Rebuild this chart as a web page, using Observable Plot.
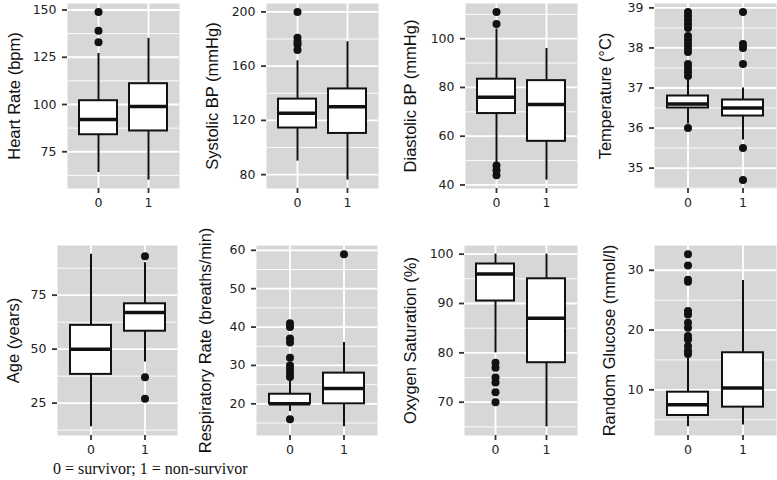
<!DOCTYPE html>
<html>
<head>
<meta charset="utf-8">
<script src="https://cdn.jsdelivr.net/npm/d3@7"></script>
<script src="https://cdn.jsdelivr.net/npm/@observablehq/plot@0.6"></script>
<style>
  html, body { margin: 0; padding: 0; background: #fff; }
  #root { position: relative; width: 777px; height: 480px; overflow: hidden; background: #fff; }
  .panel { position: absolute; }
  #caption { position: absolute; left: 53px; top: 460px; font-family: "Liberation Serif", "Times New Roman", serif; font-size: 16px; line-height: 18px; color: #111; white-space: nowrap; }
</style>
</head>
<body>
<div id="root"></div>
<script>
// ---- data ----
const groups = ["0", "1"];
const titles = [
  "Heart Rate (bpm)", "Systolic BP (mmHg)", "Diastolic BP (mmHg)", "Temperature (\u00B0C)",
  "Age (years)", "Respiratory Rate (breaths/min)", "Oxygen Saturation (%)", "Random Glucose (mmol/l)"
];
// [group 0, group 1] per panel
const lowerWhisker = [[64, 60], [90, 76], [49, 42], [36.1, 35.7], [14, 44], [18, 14], [80, 65], [3.8, 4.1]];
const lowerQuartile = [[84, 86], [114.4, 110.4], [69.3, 57.9], [36.5, 36.3], [38.3, 58.3], [20, 20], [90.5, 78], [5.7, 7.1]];
const medians = [[92, 99], [125.3, 130], [76, 73], [36.6, 36.5], [50, 67], [20, 24], [96, 87], [7.5, 10.3]];
const upperQuartile = [[102, 111], [135.7, 143.2], [83.4, 82.8], [36.8, 36.7], [61, 71], [22.5, 28], [98, 95], [9.6, 16.2]];
const upperWhisker = [[127, 135], [164, 178], [104, 96], [37.2, 37.0], [94, 90], [26, 36], [100, 100], [15.6, 28.3]];
const outliersGroup0 = [
  [133, 139, 149],
  [172, 176, 178, 181, 200],
  [44, 46, 48, 106, 111],
  [36.0, 37.3, 37.4, 37.5, 37.6, 37.9, 38.0, 38.1, 38.2, 38.3, 38.5, 38.6, 38.7, 38.8, 38.9],
  [],
  [16, 27, 28, 29, 30, 32, 36, 37, 40, 41],
  [70, 72, 74, 75, 77, 78],
  [16.0, 16.5, 17.3, 18.4, 19.0, 20.4, 21.2, 22.6, 23.2, 28.1, 28.4, 30.8, 32.7]
];
const outliersGroup1 = [
  [],
  [],
  [],
  [34.7, 35.5, 37.6, 38.0, 38.1, 38.9],
  [27, 37, 93],
  [59],
  [],
  []
];
const yTicks = [
  [75, 100, 125, 150], [80, 120, 160, 200], [40, 60, 80, 100], [35, 36, 37, 38, 39],
  [25, 50, 75], [20, 30, 40, 50, 60], [70, 80, 90, 100], [10, 20, 30]
];
const caption = "0 = survivor; 1 = non-survivor";

// ---- layout (page pixels of each panel's plotting frame) ----
const frames = [
  {x: 67, y: 3, w: 112, h: 185, title: 53},
  {x: 266, y: 3, w: 112, h: 185, title: 54},
  {x: 465, y: 3, w: 112, h: 185, title: 55},
  {x: 654, y: 3, w: 122, h: 185, title: 49},
  {x: 57, y: 245, w: 120, h: 190, title: 44},
  {x: 256, y: 245, w: 121, h: 190, title: 51},
  {x: 464, y: 245, w: 113, h: 190, title: 54},
  {x: 654, y: 245, w: 122, h: 190, title: 45}
];

const root = document.getElementById("root");
const ML = 64, MR = 1, MB = 30;

titles.forEach((title, i) => {
  const f = frames[i];
  const MT = f.y < 100 ? f.y : 20;
  const stats = groups.map((g, j) => ({
    g,
    lo: lowerWhisker[i][j],
    q1: lowerQuartile[i][j],
    med: medians[i][j],
    q3: upperQuartile[i][j],
    hi: upperWhisker[i][j]
  }));
  const outs = [
    ...outliersGroup0[i].map(v => ({g: "0", v})),
    ...outliersGroup1[i].map(v => ({g: "1", v}))
  ];
  const all = [...stats.flatMap(s => [s.lo, s.hi]), ...outs.map(o => o.v)];
  const mn = d3.min(all), mx = d3.max(all);
  const pad = (mx - mn) * 0.05;
  const dom = [mn - pad, mx + pad];
  const ticks = yTicks[i];
  const step = ticks[1] - ticks[0];
  const minor = [ticks[0] - step / 2, ...ticks.map(t => t + step / 2)]
    .filter(v => v >= dom[0] && v <= dom[1]);

  const svg = Plot.plot({
    width: ML + f.w + MR,
    height: MT + f.h + MB,
    marginLeft: ML,
    marginRight: MR,
    marginTop: MT,
    marginBottom: MB,
    style: {
      fontFamily: "'DejaVu Sans', sans-serif",
      fontSize: "12.5px",
      color: "#222",
      background: "transparent",
      overflow: "visible"
    },
    x: {type: "band", domain: groups, paddingInner: 0.25, paddingOuter: 0.225, label: null},
    y: {domain: dom, label: null},
    marks: [
      Plot.frame({fill: "#d7d7d7", stroke: null}),
      Plot.ruleY(minor, {stroke: "white", strokeWidth: 0.9}),
      Plot.ruleY(ticks, {stroke: "white", strokeWidth: 1.8}),
      Plot.ruleX(groups, {x: d => d, stroke: "white", strokeWidth: 1.8}),
      Plot.ruleX(stats, {x: "g", y1: "lo", y2: "hi", stroke: "#111", strokeWidth: 2}),
      Plot.barY(stats, {x: "g", y1: "q1", y2: "q3", fill: "white", stroke: "#111", strokeWidth: 2}),
      Plot.tickY(stats, {x: "g", y: "med", stroke: "#111", strokeWidth: 3.5}),
      Plot.dot(outs, {x: "g", y: "v", r: 4, fill: "#111", stroke: null}),
      Plot.axisY({ticks, tickFormat: d => String(d), tickSize: 5, tickPadding: 6, label: null, stroke: "#333", strokeWidth: 1.8}),
      Plot.axisX({tickSize: 5, tickPadding: 5, label: null, stroke: "#333", strokeWidth: 1.8}),
      Plot.text([title], {
        text: d => d,
        frameAnchor: "left",
        dx: -f.title,
        rotate: -90,
        textAnchor: "middle",
        lineAnchor: "middle",
        fontSize: 16.5,
        fontFamily: "'Liberation Sans', Arial, sans-serif",
        fill: "#111"
      })
    ]
  });
  const wrap = document.createElement("div");
  wrap.className = "panel";
  wrap.style.left = (f.x - ML) + "px";
  wrap.style.top = (f.y - MT) + "px";
  wrap.appendChild(svg);
  root.appendChild(wrap);
});

const cap = document.createElement("div");
cap.id = "caption";
cap.textContent = caption;
root.appendChild(cap);
</script>
</body>
</html>
